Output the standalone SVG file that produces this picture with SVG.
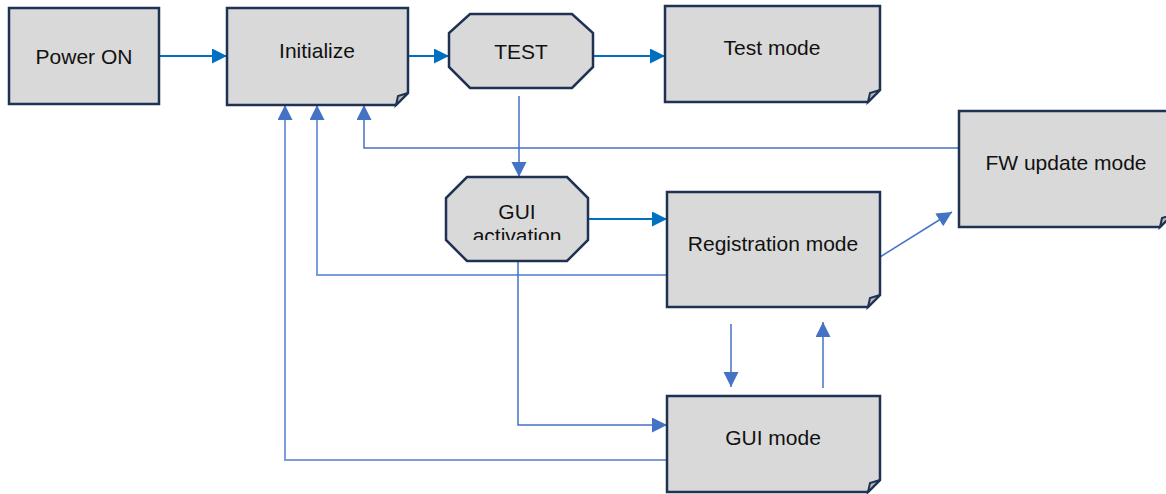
<svg xmlns="http://www.w3.org/2000/svg" width="1166" height="494" viewBox="0 0 1166 494">
<style>
.box{fill:#D9D9D9;stroke:#1F3253;stroke-width:2.5;stroke-linejoin:miter}
.fold{fill:#B8B8B8;stroke:#1F3253;stroke-width:2}
.t{font-family:"Liberation Sans",Arial,sans-serif;font-size:21px;fill:#111;text-anchor:middle}
.c1{fill:none;stroke:#0070C0;stroke-width:2}
.c2{fill:none;stroke:#4472C4;stroke-width:1.5}
.c3{fill:none;stroke:#7A9CDA;stroke-width:2}
</style>
<defs>
<marker id="a1" markerUnits="userSpaceOnUse" markerWidth="16" markerHeight="16" refX="15" refY="7.5" orient="auto">
<path d="M0,0 L15,7.5 L0,15 Z" fill="#0070C0"/>
</marker>
<marker id="a2" markerUnits="userSpaceOnUse" markerWidth="16" markerHeight="16" refX="15" refY="7.5" orient="auto">
<path d="M0,0 L15,7.5 L0,15 Z" fill="#4472C4"/>
</marker>
<clipPath id="gclip"><rect x="440" y="170" width="160" height="70"/></clipPath>
</defs>
<g id="connectors">
<path class="c1" d="M159,56 H227" marker-end="url(#a1)"/>
<path class="c1" d="M408,56 H449" marker-end="url(#a1)"/>
<path class="c1" d="M593,56 H665" marker-end="url(#a1)"/>
<path class="c2" d="M519,96 V177" marker-end="url(#a2)"/>
<path class="c1" d="M588,219 H667" marker-end="url(#a1)"/>
<path class="c3" d="M667,275 H317 V105" marker-end="url(#a2)"/>
<path class="c2" d="M959,148 H364 V105" marker-end="url(#a2)"/>
<path class="c3" d="M667,460 H285 V105" marker-end="url(#a2)"/>
<path class="c2" d="M518,257 V425 H667" marker-end="url(#a2)"/>
<path class="c2" d="M880,257 L952,212" marker-end="url(#a2)"/>
<path class="c2" d="M731,324 V387" marker-end="url(#a2)"/>
<path class="c2" d="M823,388 V322" marker-end="url(#a2)"/>
</g>
<g id="power-on">
<rect class="box" x="9" y="8" width="150" height="96"/>
<text class="t" x="84" y="64">Power ON</text>
</g>
<g id="initialize">
<path class="box" d="M227,8 H408 V93 L396,105 H227 Z"/>
<path class="fold" d="M396,105 L398,96 L408,93 Z"/>
<text class="t" x="317" y="58">Initialize</text>
</g>
<g id="test">
<path class="box" d="M470,14 H572 L593,33 V67 L572,88 H470 L449,67 V33 Z"/>
<text class="t" x="521" y="59">TEST</text>
</g>
<g id="test-mode">
<path class="box" d="M665,6 H880 V90 L868,102 H665 Z"/>
<path class="fold" d="M868,102 L870,93 L880,90 Z"/>
<text class="t" x="772" y="55">Test mode</text>
</g>
<g id="gui-activation">
<path class="box" d="M467,177 H567 L588,198 V240 L567,261 H467 L446,240 V198 Z"/>
<g clip-path="url(#gclip)">
<text class="t" x="517" y="219">GUI</text>
<text class="t" x="517" y="243">activation</text>
</g>
</g>
<g id="registration-mode">
<path class="box" d="M667,192 H880 V295 L868,307 H667 Z"/>
<path class="fold" d="M868,307 L870,298 L880,295 Z"/>
<text class="t" x="773" y="251">Registration mode</text>
</g>
<g id="fw-update-mode">
<path class="box" d="M959,111 H1172 V215 L1160,227 H959 Z"/>
<path class="fold" d="M1160,227 L1162,218 L1172,215 Z"/>
<text class="t" x="1066" y="170">FW update mode</text>
</g>
<g id="gui-mode">
<path class="box" d="M667,396 H880 V480 L868,492 H667 Z"/>
<path class="fold" d="M868,492 L870,483 L880,480 Z"/>
<text class="t" x="773" y="445">GUI mode</text>
</g>
</svg>
